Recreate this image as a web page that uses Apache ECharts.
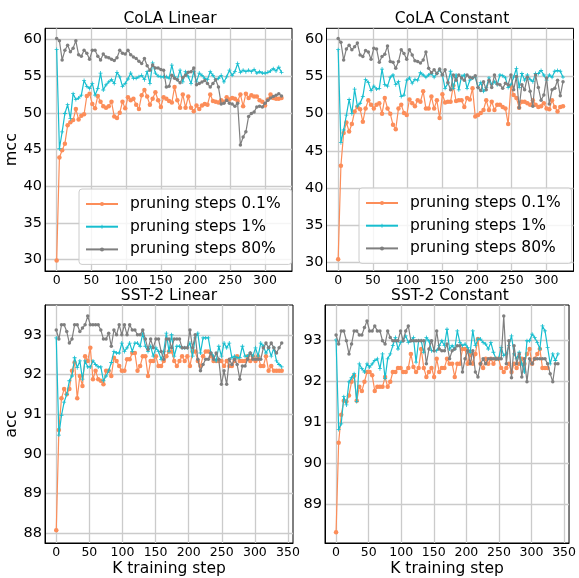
<!DOCTYPE html>
<html><head><meta charset="utf-8">
<script src="https://cdn.jsdelivr.net/npm/echarts@6/dist/echarts.min.js"></script>
<style>html,body{margin:0;padding:0;background:#fff}#c{width:579px;height:578px}</style>
</head><body><div id="c"></div><script>
const seriesNames = ['pruning steps 0.1%', 'pruning steps 1%', 'pruning steps 80%'];
const panelTitles = ['CoLA Linear', 'CoLA Constant', 'SST-2 Linear', 'SST-2 Constant'];

const colaLin01 = [29.9,43.9,44.9,45.8,48.3,48.7,49.0,50.5,49.1,49.6,
49.8,52.3,52.6,51.2,50.6,52.3,51.5,50.9,50.7,50.9,
51.5,49.5,49.3,50.0,51.5,50.6,52.1,51.7,51.9,51.1,
50.5,52.4,53.1,52.2,51.1,51.9,52.8,51.7,50.8,52.1,
51.9,51.6,51.4,53.5,51.7,50.7,52.5,50.7,52.2,50.7,
50.2,51.0,50.5,51.0,51.2,51.1,52.5,51.6,51.5,51.4,
51.7,51.5,52.1,51.8,52.0,51.9,51.6,52.5,50.9,52.6,
52.0,52.4,52.2,52.2,51.7,51.5,51.0,51.8,52.5,52.0,
51.9,51.9,52.0];
const colaLin1 = [58.6,45.1,47.4,49.9,51.1,49.2,52.6,51.8,52.0,52.4,
54.4,53.6,53.3,54.0,52.4,53.3,55.4,53.1,53.8,54.2,
54.5,54.0,55.5,54.9,53.6,54.0,54.6,55.4,54.7,54.7,
54.9,55.1,54.5,55.6,54.0,56.8,55.4,55.0,54.9,54.9,
54.9,54.7,56.5,54.9,54.5,55.8,54.2,55.6,54.9,54.0,
55.6,54.2,55.4,55.1,54.7,54.5,55.6,55.1,54.5,54.7,
55.1,54.2,54.9,55.8,55.1,55.6,56.7,55.5,55.8,55.6,
55.8,55.6,55.9,55.4,55.6,55.4,55.4,55.5,55.7,56.0,
55.7,56.2,55.5];
const colaLin80 = [60.1,59.8,57.2,58.5,59.2,58.3,58.8,59.8,57.9,57.7,
58.5,58.1,57.3,58.5,58.5,57.7,57.2,58.0,57.6,57.5,
57.3,57.1,57.5,58.5,58.1,58.0,58.5,57.9,57.6,57.4,
57.0,56.7,57.4,56.4,55.8,56.5,56.1,56.1,55.9,55.8,
53.5,53.6,55.1,54.7,54.5,54.1,54.8,55.1,55.5,55.6,
56.1,53.8,54.0,54.2,54.4,54.0,53.5,54.0,54.5,53.5,
51.2,51.3,51.7,51.3,51.2,50.9,51.3,45.6,46.7,47.4,
49.5,49.9,50.1,50.8,50.9,50.8,51.3,51.7,52.0,52.2,
52.4,52.6,52.3];

const colaCon01 = [30.4,43.0,47.4,48.8,47.6,48.6,50.3,50.9,50.6,48.9,
50.7,51.8,51.2,50.7,51.2,51.4,50.0,52.1,50.7,50.0,
48.5,47.9,50.7,51.2,50.1,49.8,51.9,51.4,51.0,51.8,
51.6,53.0,50.7,50.7,52.3,50.7,51.8,49.4,52.6,51.5,
51.6,51.6,53.8,51.7,51.8,51.8,50.9,52.1,51.9,53.4,
49.6,49.8,50.1,50.5,51.8,50.5,51.6,50.5,51.2,51.2,
50.9,50.7,48.6,53.7,52.5,52.1,50.8,51.6,51.6,51.4,
51.2,51.8,51.2,50.9,51.0,51.4,50.7,50.6,51.8,50.9,
50.3,50.9,51.0];
const colaCon1 = [58.6,46.1,47.8,49.8,51.9,50.0,53.3,51.0,51.4,52.3,
54.6,54.2,53.1,53.7,53.3,53.4,56.0,53.9,53.7,54.9,
55.2,53.9,54.3,52.3,52.5,54.5,54.8,54.1,54.6,54.5,
55.5,55.2,54.9,55.2,55.4,54.9,55.4,55.9,55.2,53.4,
54.1,55.7,53.4,55.2,53.2,55.0,55.2,53.4,54.5,54.8,
54.9,53.5,54.2,53.0,53.5,54.8,53.9,54.3,53.9,55.2,
55.1,54.8,53.5,53.9,54.9,56.1,53.5,55.4,54.5,55.2,
54.6,54.3,55.4,55.4,55.8,55.2,54.5,55.2,54.9,55.7,
55.8,55.7,54.9];
const colaCon80 = [60.1,59.6,57.2,58.7,59.2,58.6,59.0,59.5,57.9,57.7,
58.5,58.3,57.3,58.8,58.7,56.9,57.7,58.0,59.1,57.0,
56.9,56.1,57.0,58.6,58.1,57.3,58.6,57.9,57.1,57.0,
56.8,57.2,58.3,56.1,55.5,55.9,55.4,56.0,55.2,55.9,
54.2,53.2,55.2,54.5,55.2,54.8,54.5,55.2,54.9,54.8,
55.1,53.5,53.1,54.3,53.2,54.5,53.5,55.2,54.0,53.9,
53.4,54.1,53.9,55.2,53.2,55.0,50.8,53.9,53.2,54.9,
53.0,51.0,55.2,53.5,51.8,52.5,54.8,51.3,53.2,53.4,
54.5,52.4,54.3];

const sstLin01 = [88.07,90.6,91.4,91.63,91.5,91.63,92.09,92.3,91.4,91.96,
91.71,92.46,92.34,92.67,91.88,92.09,91.88,91.84,91.75,92.09,
92.09,91.96,92.42,92.34,92.21,92.09,92.09,92.38,92.38,92.54,
92.54,92.09,92.21,92.46,92.46,91.96,92.34,92.34,92.46,92.21,
92.21,92.34,92.46,92.58,92.58,92.34,92.21,92.34,92.46,92.34,
92.46,92.21,92.58,92.58,92.34,92.21,92.46,92.58,92.58,92.46,
92.34,92.34,92.34,92.34,92.21,92.34,92.21,92.21,92.34,92.46,
92.34,92.34,92.34,92.46,92.34,92.46,92.34,92.46,92.21,92.21,
92.46,92.09,92.21,92.09,92.09,92.09,92.09];
const sstLin1 = [92.92,90.47,90.97,91.3,91.5,91.84,91.96,92.42,92.17,92.34,
91.88,92.34,92.19,92.19,92.34,92.25,92.19,92.19,91.84,91.96,
92.09,92.3,92.58,92.54,92.54,92.79,92.58,92.67,92.79,92.58,
92.79,92.79,92.71,93.04,92.71,92.58,92.71,92.46,92.67,92.58,
92.38,92.58,93.04,92.58,93.0,92.46,92.71,92.71,92.67,92.67,
92.67,92.79,92.46,92.92,93.04,92.54,92.92,92.92,92.92,92.54,
92.46,92.34,92.71,92.46,92.79,92.67,92.79,92.42,92.46,92.42,
92.42,92.71,92.46,92.46,92.54,92.46,92.67,92.46,92.79,92.71,
92.54,92.67,92.46,92.67,92.34,92.25,92.19];
const sstLin80 = [93.12,92.89,93.25,93.25,93.08,92.79,92.89,93.25,93.25,93.08,
93.17,93.25,93.47,93.25,93.25,93.25,93.25,93.12,92.89,92.89,
93.04,92.71,93.12,93.0,93.25,93.0,93.25,93.0,93.25,93.12,
93.12,93.0,93.0,93.12,92.89,92.63,92.89,92.67,92.89,92.89,
92.58,92.38,92.89,92.89,92.67,92.89,92.89,92.89,92.67,92.67,
92.67,93.12,92.67,93.0,92.38,92.09,92.25,92.38,92.38,92.54,
92.38,92.54,92.38,91.75,92.09,91.75,92.38,92.25,92.38,92.25,
91.88,92.21,92.21,92.38,92.54,92.38,92.38,92.38,92.38,92.67,
92.79,92.67,92.79,92.67,92.54,92.67,92.79];

const sstCon01 = [88.32,90.5,91.18,91.52,91.5,91.65,91.98,92.13,91.52,91.86,
91.76,91.98,92.22,92.22,92.14,91.76,91.86,91.86,91.86,92.1,
91.86,91.98,92.22,92.22,92.32,92.32,92.22,92.22,92.32,92.66,
92.34,92.22,92.32,92.78,92.32,92.1,92.22,92.32,92.1,92.54,
92.22,92.32,92.32,92.54,92.42,92.42,92.1,92.42,92.42,92.78,
92.78,92.42,92.66,92.42,92.66,93.02,92.42,92.32,92.54,92.42,
92.54,92.42,92.54,92.54,92.32,92.22,92.32,92.42,92.22,92.42,
92.32,92.42,92.54,92.42,92.66,92.78,92.42,92.54,92.66,92.78,
92.32,92.32,92.32];
const sstCon1 = [93.0,90.82,90.96,91.62,91.42,91.98,92.08,92.18,91.5,92.42,
92.3,92.22,92.42,92.34,92.42,92.5,92.54,92.3,92.66,92.06,
92.54,92.66,92.86,93.06,92.78,92.94,92.98,93.1,92.94,92.98,
93.06,92.46,92.98,92.98,92.7,93.06,92.98,92.74,92.74,92.74,
92.86,92.98,92.86,93.26,92.78,92.86,92.78,93.22,92.94,92.86,
92.9,92.82,92.7,93.22,92.86,93.02,93.02,92.94,92.9,92.78,
92.94,92.7,92.54,92.54,92.82,92.62,92.66,92.86,93.1,92.66,
92.54,92.7,92.42,92.22,92.98,92.98,93.14,93.06,92.94,92.78,
93.34,93.22,92.82,92.42,92.66,92.5,92.66];
const sstCon80 = [93.12,92.9,93.22,93.22,92.98,92.66,92.9,93.22,93.22,93.12,
93.12,93.3,93.46,93.22,93.22,93.34,93.22,93.22,92.98,92.9,
93.22,93.06,92.98,92.98,92.98,93.22,92.98,93.22,93.34,92.98,
92.98,92.98,92.98,92.98,92.98,92.42,92.78,92.98,92.74,93.22,
92.78,92.74,92.74,92.9,92.54,92.74,92.78,92.86,92.86,92.22,
92.54,92.74,92.42,92.74,92.22,92.1,92.42,92.54,92.42,92.54,
92.54,92.54,92.54,92.54,92.54,93.58,92.42,92.98,92.08,92.86,
92.42,92.66,92.1,92.54,91.98,92.54,92.42,92.54,92.54,92.54,
92.54,92.54,92.42,92.18,91.98,92.42,92.42];

const colaStep = 3.95;   // K steps between evaluations
const sstStep = 3.96;
const colaTicksX = [0, 50, 100, 150, 200, 250, 300];
const sstTicksX = [0, 50, 100, 150, 200, 250, 300, 350];
const colaTicksY = [30, 35, 40, 45, 50, 55, 60];
const sstLinTicksY = [88, 89, 90, 91, 92, 93];
const sstConTicksY = [89, 90, 91, 92, 93];

const colors = ['#fc8d59', '#17becf', '#7f7f7f'];
const FONT = 'DejaVu Sans';
const plusPath = 'path://M4,0h2v4h4v2h-4v4h-2v-4h-4v-2h4z';
const symbols = ['circle', plusPath, 'circle'];
const symSizes = [4.5, 4, 3.5];

const grids = [
  {left: 45, top: 28.3, width: 247, height: 242.7},
  {left: 326.5, top: 28.3, width: 247, height: 242.7},
  {left: 45, top: 305, width: 248, height: 241.7},
  {left: 325, top: 305, width: 248, height: 241.7}
];
const xRanges = [[-16.8, 339], [-16.8, 339], [-17, 357.6], [-17, 357.6]];
const yRanges = [[28.46, 61.5], [28.83, 61.48], [87.75, 93.75], [88.06, 93.85]];
const xTicks = [colaTicksX, colaTicksX, sstTicksX, sstTicksX];
const yTicks = [colaTicksY, colaTicksY, sstLinTicksY, sstConTicksY];
const yNames = ['mcc', '', 'acc', ''];
const xNames = ['', '', 'K training step', 'K training step'];
const titleCenters = [[170, 19], [452, 19], [169, 296], [450, 296]];

const panelData = [
  [colaLin01, colaLin1, colaLin80],
  [colaCon01, colaCon1, colaCon80],
  [sstLin01, sstLin1, sstLin80],
  [sstCon01, sstCon1, sstCon80]
];
const panelStep = [colaStep, colaStep, sstStep, sstStep];

const split = {show: true, lineStyle: {color: '#cbcbcb', width: 1.3}};
const xAxis = [], yAxis = [], series = [], title = [];
for (let g = 0; g < 4; g++) {
  xAxis.push({
    type: 'value', gridIndex: g, min: xRanges[g][0], max: xRanges[g][1],
    axisLine: {show: true, onZero: false, lineStyle: {color: '#000', width: 1}},
    axisTick: {show: false, customValues: xTicks[g]},
    axisLabel: {customValues: xTicks[g], fontSize: 12.5, color: '#000', fontFamily: FONT, margin: 3},
    splitLine: split,
    name: xNames[g], nameLocation: 'middle', nameGap: 18,
    nameTextStyle: {fontSize: 15.5, color: '#000', fontFamily: FONT, verticalAlign: 'top'}
  });
  yAxis.push({
    type: 'value', gridIndex: g, min: yRanges[g][0], max: yRanges[g][1],
    axisLine: {show: true, onZero: false, lineStyle: {color: '#000', width: 1}},
    axisTick: {show: false, customValues: yTicks[g]},
    axisLabel: {customValues: yTicks[g], fontSize: 14.5, color: '#000', fontFamily: FONT, margin: 3},
    splitLine: split,
    name: yNames[g], nameLocation: 'middle', nameGap: 13, nameRotate: 90,
    nameTextStyle: {fontSize: 16, color: '#000', fontFamily: FONT}
  });
  title.push({
    text: panelTitles[g], left: titleCenters[g][0], top: titleCenters[g][1],
    textAlign: 'center', textVerticalAlign: 'middle', padding: 0,
    textStyle: {fontSize: 15.5, fontWeight: 'normal', color: '#000', fontFamily: FONT}
  });
  for (let s = 0; s < 3; s++) {
    const vals = panelData[g][s];
    series.push({
      type: 'line', name: seriesNames[s], xAxisIndex: g, yAxisIndex: g,
      data: vals.map((v, i) => [i * panelStep[g], v]),
      symbol: symbols[s], symbolSize: symSizes[s], showSymbol: true,
      color: colors[s],
      lineStyle: {width: 1.2, color: colors[s]},
      itemStyle: {color: colors[s]},
      emphasis: {disabled: true},
      z: 2 + s * 0.1, clip: true
    });
  }
}

const legendCommon = {
  orient: 'vertical', data: seriesNames, selectedMode: false,
  itemWidth: 32, itemHeight: 5, itemGap: 4.7,
  padding: [6, 11, 6, 6],
  backgroundColor: 'rgba(255,255,255,0.8)', borderColor: '#cccccc', borderWidth: 1, borderRadius: 3,
  textStyle: {fontSize: 15.5, color: '#000', fontFamily: FONT, lineHeight: 18, padding: [0, 0, 0, 7]}
};
const legend = [
  Object.assign({}, legendCommon, {left: 79, top: 189}),
  Object.assign({}, legendCommon, {left: 359, top: 188})
];

const chart = echarts.init(document.getElementById('c'), null, {renderer: 'canvas'});
chart.setOption({
  animation: false,
  backgroundColor: '#fff',
  title: title,
  legend: legend,
  grid: grids.map(g => Object.assign({show: true, borderColor: '#000', borderWidth: 1, backgroundColor: 'transparent'}, g)),
  xAxis: xAxis, yAxis: yAxis, series: series
});
</script></body></html>
